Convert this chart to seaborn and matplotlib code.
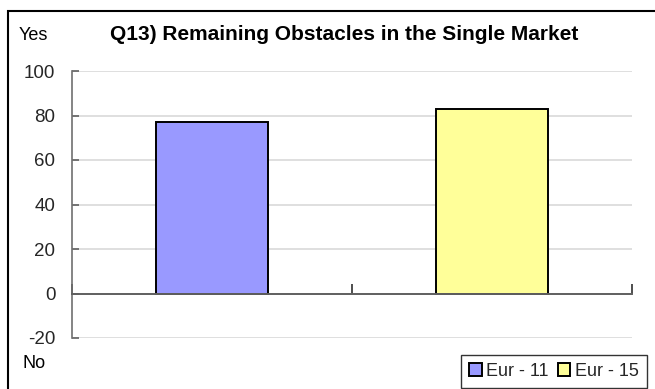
import matplotlib
matplotlib.use("Agg")
import matplotlib.pyplot as plt
from matplotlib.patches import Rectangle
import pandas as pd
import seaborn as sns

# data
series = ["Eur - 11", "Eur - 15"]
values = [77, 83]
colors = ["#9999FF", "#FFFF99"]
y_ticks = [-20, 0, 20, 40, 60, 80, 100]

sns.set_theme(style="white")
plt.rcParams["font.family"] = ["Liberation Sans", "DejaVu Sans"]

df = pd.DataFrame({"series": series, "value": values})

fig = plt.figure(figsize=(6.55, 3.89), dpi=100)
ax = fig.add_axes([72 / 655, 1 - 338 / 389, 560 / 655, 267 / 389])

sns.barplot(
    data=df,
    x="series",
    y="value",
    hue="series",
    palette=colors,
    saturation=1,
    width=0.4,
    edgecolor="black",
    linewidth=1.4,
    legend=True,
    ax=ax,
)
handles, labels = ax.get_legend_handles_labels()
ax.get_legend().remove()

ax.set_ylim(-20, 100)
ax.set_xlim(-0.5, 1.5)
ax.set_yticks(y_ticks)
ax.set_yticklabels([str(t) for t in y_ticks], fontsize=13.5)
ax.set_xticks([-0.5, 0.5, 1.5])
ax.set_xticklabels([])
ax.set_xlabel("")
ax.set_ylabel("")

ax.yaxis.grid(True, color="#d9d9d9", linewidth=1.2)
ax.set_axisbelow(True)
for side in ["top", "right"]:
    ax.spines[side].set_visible(False)
ax.spines["left"].set_color("#707070")
ax.spines["left"].set_linewidth(1.2)
ax.spines["bottom"].set_position(("data", 0))
ax.spines["bottom"].set_color("#606060")
ax.spines["bottom"].set_linewidth(1.4)
ax.spines["bottom"].set_zorder(3)
ax.tick_params(axis="y", direction="in", length=5, width=1.2, color="#606060", pad=12, left=True)
ax.tick_params(axis="x", direction="in", length=7, width=1.2, color="#303030", bottom=True)

fig.text(344 / 655, 1 - 35 / 389, "Q13) Remaining Obstacles in the Single Market",
         ha="center", va="center", fontsize=15, fontweight="bold", color="black")
fig.text(19 / 655, 1 - 35 / 389, "Yes", ha="left", va="center", fontsize=13, color="black")
fig.text(22 / 655, 1 - 364 / 389, "No", ha="left", va="center", fontsize=13, color="black")

# outer chart frame
fig.patches.append(Rectangle((8 / 655, -0.05), 1.0, 1.05 - 11 / 389,
                             transform=fig.transFigure, fill=False,
                             edgecolor="black", linewidth=1.5))

leg = fig.legend(handles, labels, loc="upper right", bbox_to_anchor=(647 / 655, 1 - 355 / 389),
                 ncol=2, fontsize=13, frameon=True, fancybox=False, borderaxespad=0,
                 handlelength=0.7, handleheight=0.7, handletextpad=0.25, columnspacing=0.5,
                 borderpad=0.45)
leg.get_frame().set_edgecolor("black")
leg.get_frame().set_linewidth(1.0)
for h in leg.legend_handles:
    h.set_edgecolor("black")
    h.set_linewidth(1.4)

fig.savefig("out.png", dpi=100)
